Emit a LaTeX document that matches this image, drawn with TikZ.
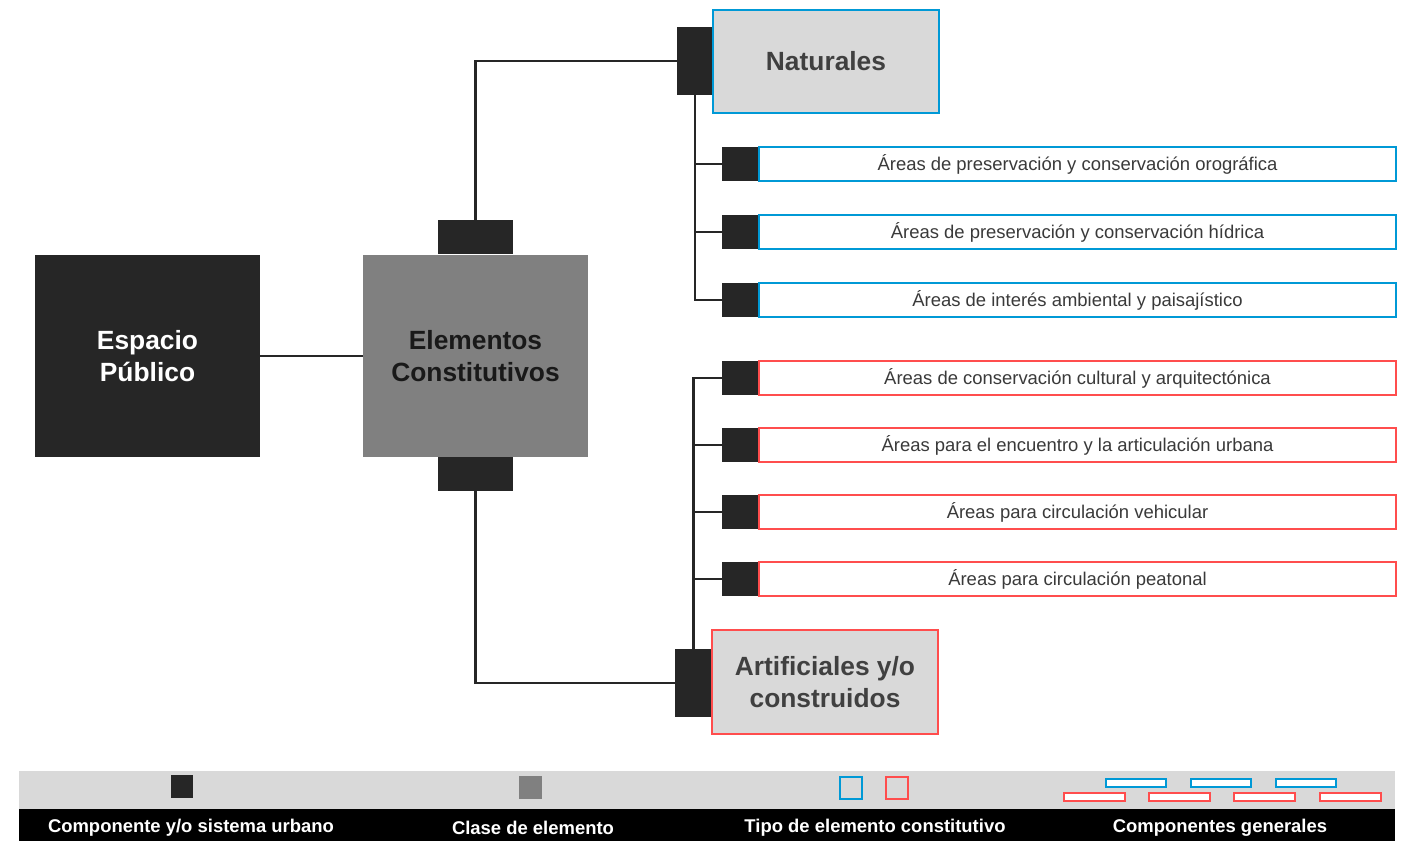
\documentclass[tikz,border=0pt]{standalone}
\usepackage{fontspec}
\setmainfont{Liberation Sans}
\begin{document}
\begin{tikzpicture}[x=0.02cm,y=-0.02cm,
  blk/.style={fill=dark,draw=none,inner sep=0,outer sep=0},
  conn/.style={draw=dark,line width=1.2pt},
  bigtxt/.style={font=\fontsize{15}{18}\selectfont\bfseries,align=center},
  smallbox/.style={fill=white,line width=1.4pt,minimum width=12.74cm,minimum height=0.68cm,inner sep=0,outer sep=0,text=txtgray,font=\fontsize{10.5}{12}\selectfont},
  tab/.style={blk,minimum width=0.74cm,minimum height=0.68cm},
  legtxt/.style={text=white,font=\fontsize{10.5}{12}\selectfont\bfseries}]
\definecolor{dark}{HTML}{262626}
\definecolor{midgray}{HTML}{808080}
\definecolor{lightgray}{HTML}{D9D9D9}
\definecolor{blu}{HTML}{0099D6}
\definecolor{rd}{HTML}{FF4D4D}
\definecolor{txtgray}{HTML}{3A3A3A}
\definecolor{natgray}{HTML}{404040}
\useasboundingbox (0,0) rectangle (1404,841);
% main boxes
\node[blk,minimum width=4.5cm,minimum height=4.06cm,text=white,bigtxt] (esp) at (147.5,356) {Espacio\\Público};
\node[fill=midgray,inner sep=0,outer sep=0,minimum width=4.5cm,minimum height=4.06cm,text=black!90,bigtxt] (elem) at (475.5,356) {Elementos\\Constitutivos};
\node[blk,minimum width=1.5cm,minimum height=0.68cm] (toptab) at (475.5,237) {};
\node[blk,minimum width=1.5cm,minimum height=0.68cm] (bottab) at (475.5,474) {};
% Naturales
\node[blk,minimum width=0.72cm,minimum height=1.36cm] (nattab) at (695,61) {};
\node[fill=lightgray,draw=blu,line width=1.4pt,inner sep=0,outer sep=0,minimum width=4.52cm,minimum height=2.06cm,text=natgray,bigtxt] (nat) at (826,61.5) {Naturales};
% Artificiales
\node[blk,minimum width=0.74cm,minimum height=1.36cm] (arttab) at (693.5,683) {};
\node[fill=lightgray,draw=rd,line width=1.4pt,inner sep=0,outer sep=0,minimum width=4.52cm,minimum height=2.08cm,text=natgray,bigtxt] (art) at (825,682) {Artificiales y/o\\construidos};
% blue components
\node[tab] (t1) at (740.5,164) {};
\node[smallbox,draw=blu] (b1) at (1077.5,164) {Áreas de preservación y conservación orográfica};
\node[tab] (t2) at (740.5,232) {};
\node[smallbox,draw=blu] (b2) at (1077.5,232) {Áreas de preservación y conservación hídrica};
\node[tab] (t3) at (740.5,300) {};
\node[smallbox,draw=blu] (b3) at (1077.5,300) {Áreas de interés ambiental y paisajístico};
% red components
\node[tab] (s1) at (740.5,378) {};
\node[smallbox,draw=rd] (r1) at (1077.5,378) {Áreas de conservación cultural y arquitectónica};
\node[tab] (s2) at (740.5,445) {};
\node[smallbox,draw=rd] (r2) at (1077.5,445) {Áreas para el encuentro y la articulación urbana};
\node[tab] (s3) at (740.5,512) {};
\node[smallbox,draw=rd] (r3) at (1077.5,512) {Áreas para circulación vehicular};
\node[tab] (s4) at (740.5,579) {};
\node[smallbox,draw=rd] (r4) at (1077.5,579) {Áreas para circulación peatonal};
% connectors
\draw[conn] (esp.east) -- (elem.west);
\draw[conn] (toptab.north) |- (nattab.west);
\draw[conn] (bottab.south) |- (arttab.west);
\draw[conn] (nattab.south) |- (t3.west);
\draw[conn] (t1.west) -| (nattab.south);
\draw[conn] (t2.west) -| (nattab.south);
\draw[conn] (arttab.north) |- (s1.west);
\draw[conn] (s2.west) -| (arttab.north);
\draw[conn] (s3.west) -| (arttab.north);
\draw[conn] (s4.west) -| (arttab.north);
% legend
\fill[lightgray] (19,771) rectangle (1395,809);
\fill[black] (19,809) rectangle (1395,841);
\fill[dark] (171,775) rectangle (193,798);
\fill[midgray] (519,776) rectangle (542,799);
\draw[blu,line width=1.2pt] (840,777) rectangle (862,799);
\draw[rd,line width=1.2pt] (886,777) rectangle (908,799);
\foreach \a in {1106,1191,1276} {\draw[blu,line width=1.2pt,fill=white] (\a,779) rectangle (\a+60,787);}
\foreach \a in {1064,1149,1234,1320} {\draw[rd,line width=1.2pt,fill=white] (\a,793) rectangle (\a+61,801);}
\node[legtxt] (l1) at (191,828) {Componente y/o sistema urbano};
\node[legtxt] (l2) at (533,828) {Clase de elemento};
\node[legtxt] (l3) at (875,828) {Tipo de elemento constitutivo};
\node[legtxt] (l4) at (1220,828) {Componentes generales};
\end{tikzpicture}
\end{document}
